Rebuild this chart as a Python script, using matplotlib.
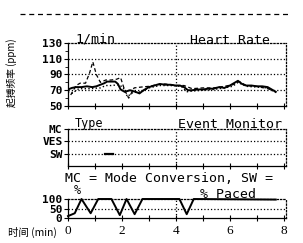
import matplotlib
matplotlib.use('Agg')
import matplotlib.pyplot as plt
from matplotlib.lines import Line2D
import numpy as np

# heart rate panel (1/min)
hr_solid_t = [0, 0.15, 0.3, 0.5, 0.7, 0.9, 1.05, 1.2, 1.35, 1.45, 1.6, 1.75, 1.85, 1.95, 2.1, 2.3, 2.5, 2.65, 2.8,
              3.0, 3.2, 3.4, 3.6, 3.8, 4.0, 4.15, 4.3, 4.45, 4.6, 4.8, 5.0, 5.2, 5.4, 5.6, 5.8, 6.0, 6.15, 6.3,
              6.45, 6.6, 6.8, 7.0, 7.2, 7.4, 7.55, 7.7]
hr_solid_v = [71, 73, 74, 74, 75, 74, 75, 77, 79, 81, 81, 81, 78, 71, 68, 70, 68, 66, 70,
              74, 76, 78, 77, 77, 76, 76, 74, 70, 70, 71, 71, 72, 72, 74, 73, 76, 79, 82,
              78, 76, 76, 75, 75, 74, 71, 68]
hr_dash_t = [0.1, 0.3, 0.45, 0.65, 0.8, 0.92, 1.05, 1.2, 1.4, 1.6, 1.8, 1.95, 2.1, 2.25, 2.45, 2.7, 3.0,
             3.3, 3.6, 4.0, 4.3, 4.6, 5.0, 5.4, 5.8, 6.1, 6.35, 6.6, 7.0, 7.4, 7.6]
hr_dash_v = [64, 76, 79, 79, 92, 106, 90, 80, 83, 83, 84, 86, 70, 60, 73, 74, 75,
             77, 78, 76, 76, 72, 73, 73, 75, 77, 81, 76, 75, 72, 70]
hr_dot_t = [0, 0.15, 0.4, 0.8, 1.2, 1.4, 1.6, 1.9, 2.05, 2.2, 2.4, 2.7, 3.0, 3.4, 3.8, 4.2, 4.4, 4.6,
            5.0, 5.4, 5.8, 6.1, 6.3, 6.6, 7.0, 7.4, 7.7]
hr_dot_v = [68, 66, 72, 72, 73, 76, 76, 77, 73, 62, 67, 68, 73, 76, 76, 75, 68, 69,
            70, 71, 73, 75, 80, 75, 74, 73, 67]

# event monitor (SW marker)
ev_start = 1.37
ev_end = 1.65
ev_level = 1

# % paced
pace_t = [0, 0.25, 0.5, 0.84, 1.12, 1.61, 1.92, 2.17, 2.47, 2.76, 4.13, 4.4, 4.66, 7.7]
pace_v = [10, 25, 100, 25, 100, 100, 15, 100, 20, 100, 100, 20, 100, 97]

W, H = 303, 243
fig = plt.figure(figsize=(W / 100, H / 100), dpi=100)
mono = 'DejaVu Sans Mono'
cjk = ['Noto Sans CJK SC', 'DejaVu Sans']

def box(l, t, r, b):
    return [l / W, 1 - b / H, (r - l) / W, (b - t) / H]

def style(ax):
    ax.set_xlim(0, 8.08)
    ax.spines['top'].set_linestyle(':')
    ax.spines['right'].set_linestyle(':')
    for s in ax.spines.values():
        s.set_linewidth(0.9)
    ax.set_xticks(range(0, 9))
    ax.tick_params(axis='x', direction='inout', length=4, width=0.8)
    ax.tick_params(axis='y', direction='out', length=3, width=0.8, pad=1)
    ax.axvline(4, color='black', linestyle=':', linewidth=0.9)

# heart rate
ax1 = fig.add_axes(box(68, 43, 286, 106))
style(ax1)
ax1.set_ylim(50, 130)
ax1.set_yticks([50, 70, 90, 110, 130])
ax1.set_yticks([60, 80, 100, 120], minor=True)
ax1.tick_params(axis='y', which='minor', length=2)
ax1.set_yticklabels(['50', '70', '90', '110', '130'], family=mono, fontsize=8, fontweight='bold')
ax1.set_xticklabels([])
for v in [70, 90, 110]:
    ax1.axhline(v, color='black', linestyle=':', linewidth=0.9)
ax1.plot(hr_dot_t, hr_dot_v, color='black', linestyle=':', linewidth=1.0)
ax1.plot(hr_dash_t, hr_dash_v, color='black', linestyle=(0, (3, 2)), linewidth=0.9)
ax1.plot(hr_solid_t, hr_solid_v, color='black', linewidth=1.4)

# event monitor
ax2 = fig.add_axes(box(68, 129, 286, 166))
style(ax2)
ax2.set_ylim(0, 3)
ax2.set_yticks([1, 2, 3])
ax2.set_yticklabels(['SW', 'VES', 'MC'], family=mono, fontsize=8, fontweight='bold')
ax2.set_xticklabels([])
for v in [1, 2]:
    ax2.axhline(v, color='black', linestyle=':', linewidth=0.9)
ax2.plot([ev_start, ev_end], [ev_level, ev_level], color='black', linewidth=1.6)

# % paced
ax3 = fig.add_axes(box(68, 199, 286, 218))
style(ax3)
ax3.set_ylim(0, 100)
ax3.set_yticks([0, 50, 100])
ax3.set_yticklabels(['0', '50', '100'], family=mono, fontsize=8, fontweight='bold')
ax3.set_xticklabels(['0', '', '2', '', '4', '', '6', '', '8'], family='Liberation Serif', fontsize=9.5)
ax3.tick_params(axis='x', pad=3)
ax3.axhline(50, color='black', linestyle=':', linewidth=0.9)
ax3.plot(pace_t, pace_v, color='black', linewidth=1.4, clip_on=False, zorder=5)

# labels
def txt(x, y, s, **kw):
    fig.text(x / W, 1 - y / H, s, va='center', **kw)

txt(75, 39, '1/min', family=mono, fontsize=9.5)
txt(190, 40, 'Heart Rate', family=mono, fontsize=9.5)
txt(75, 124, 'Type', family=mono, fontsize=8.5)
txt(178, 125, 'Event Monitor', family=mono, fontsize=9.5)
txt(65, 178, 'MC = Mode Conversion, SW =', family=mono, fontsize=9.5)
txt(74, 191, '%', family=mono, fontsize=8.5)
txt(200, 194, '% Paced', family=mono, fontsize=9.5)
txt(8, 232, '时间 (min)', family=cjk, fontsize=7.5)
fig.text(12 / W, 1 - 73 / H, '起搏频率 (ppm)', rotation=90, va='center', ha='center',
         family=cjk, fontsize=7)

fig.add_artist(Line2D([20 / W, 290 / W], [1 - 14 / H, 1 - 14 / H], color='black',
                      linestyle=(0, (4, 3)), linewidth=0.9))

fig.savefig('out.png', dpi=100)
